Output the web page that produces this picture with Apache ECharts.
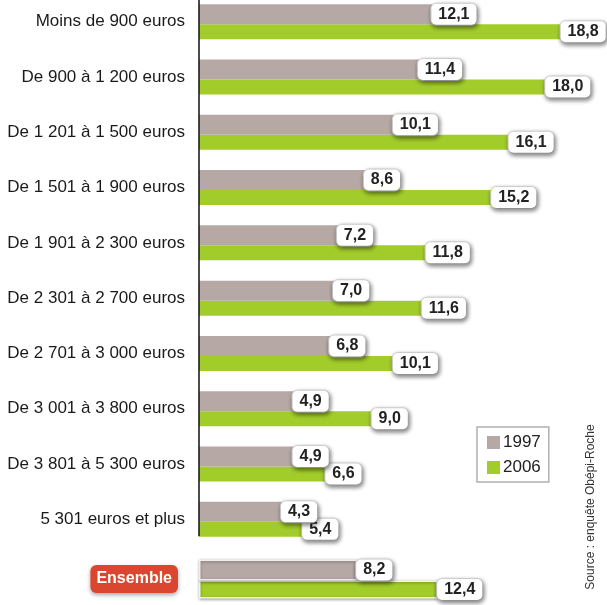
<!DOCTYPE html>
<html>
<head>
<meta charset="utf-8">
<script src="https://cdn.jsdelivr.net/npm/echarts@6/dist/echarts.min.js"></script>
<style>
  html, body { margin: 0; padding: 0; background: #ffffff; }
  #chart { width: 607px; height: 605px; }
</style>
</head>
<body>
<div id="chart"></div>
<script>
// Income brackets (monthly household income) and share of obese adults, in %
const categories = [
  'Moins de 900 euros',
  'De 900 à 1 200 euros',
  'De 1 201 à 1 500 euros',
  'De 1 501 à 1 900 euros',
  'De 1 901 à 2 300 euros',
  'De 2 301 à 2 700 euros',
  'De 2 701 à 3 000 euros',
  'De 3 001 à 3 800 euros',
  'De 3 801 à 5 300 euros',
  '5 301 euros et plus'
];
const values1997 = [12.1, 11.4, 10.1, 8.6, 7.2, 7.0, 6.8, 4.9, 4.9, 4.3];
const values2006 = [18.8, 18.0, 16.1, 15.2, 11.8, 11.6, 10.1, 9.0, 6.6, 5.4];

const totalCategory = ['Ensemble'];
const total1997 = [8.2];
const total2006 = [12.4];

const seriesNames = ['1997', '2006'];
const sourceText = 'Source : enquête Obépi-Roche';

const FONT = '"Liberation Sans", Arial, sans-serif';
const GREY = '#b6a8a4';
const GREEN = '#a2cc2a';

const fmt = v => v.toFixed(1).replace('.', ',');

const valueLabel = {
  show: true,
  position: 'right',
  distance: -1,
  formatter: p => fmt(p.value),
  fontFamily: FONT,
  fontSize: 16,
  fontWeight: 'bold',
  color: '#222222',
  backgroundColor: '#ffffff',
  borderColor: '#d8d8d8',
  borderWidth: 1,
  borderRadius: 5,
  padding: [3, 7, 2, 7],
  shadowColor: 'rgba(0,0,0,0.45)',
  shadowBlur: 4,
  shadowOffsetX: 1,
  shadowOffsetY: 2
};

const xScale = { min: 0, max: 21 };

const chart = echarts.init(document.getElementById('chart'), null, { renderer: 'canvas' });

const option = {
  animation: false,
  backgroundColor: '#ffffff',
  textStyle: { fontFamily: FONT },
  grid: [
    { left: 199, width: 405, top: -6, height: 553, outerBoundsMode: 'none', containLabel: false },
    { left: 199, width: 405, top: 555, height: 48, outerBoundsMode: 'none', containLabel: false }
  ],
  xAxis: [
    { gridIndex: 0, type: 'value', min: xScale.min, max: xScale.max, show: false },
    { gridIndex: 1, type: 'value', min: xScale.min, max: xScale.max, show: false }
  ],
  yAxis: [
    {
      gridIndex: 0, type: 'category', data: categories, inverse: true,
      axisLine: { show: false }, axisTick: { show: false }, splitLine: { show: false },
      axisLabel: { margin: 14, fontFamily: FONT, fontSize: 17, color: '#1a1a1a' }
    },
    {
      gridIndex: 1, type: 'category', data: totalCategory, inverse: true,
      axisLine: { show: false }, axisTick: { show: false }, splitLine: { show: false },
      axisLabel: {
        margin: 21, fontFamily: FONT, fontSize: 16, fontWeight: 'bold', color: '#ffffff',
        backgroundColor: '#db4630', borderRadius: 6, padding: [6, 6, 6, 6],
        shadowColor: 'rgba(0,0,0,0.35)', shadowBlur: 4, shadowOffsetY: 2
      }
    }
  ],
  legend: {
    data: seriesNames,
    orient: 'vertical',
    left: 477, top: 427,
    icon: 'rect',
    itemWidth: 13, itemHeight: 13, itemGap: 8,
    borderColor: '#b0b0b0', borderWidth: 1.5,
    padding: [7, 8, 6, 10],
    textStyle: { fontFamily: FONT, fontSize: 17, color: '#222222', padding: [0, 0, 0, -2] }
  },
  series: [
    {
      name: '1997', type: 'bar', xAxisIndex: 0, yAxisIndex: 0, data: values1997,
      barWidth: 20, barGap: 0, z: 3,
      itemStyle: { color: GREY },
      label: valueLabel
    },
    {
      name: '2006', type: 'bar', xAxisIndex: 0, yAxisIndex: 0, data: values2006,
      barWidth: 15, barGap: 0, z: 2,
      itemStyle: { color: GREEN },
      label: valueLabel
    },
    {
      name: '1997', type: 'bar', xAxisIndex: 1, yAxisIndex: 1, data: total1997,
      barWidth: 21, barGap: 0, z: 3,
      itemStyle: { color: GREY, borderColor: '#f2eeea', borderWidth: 1.5,
        shadowColor: 'rgba(0,0,0,0.35)', shadowBlur: 3, shadowOffsetY: 1 },
      label: valueLabel
    },
    {
      name: '2006', type: 'bar', xAxisIndex: 1, yAxisIndex: 1, data: total2006,
      barWidth: 18, barGap: 0, z: 2,
      itemStyle: { color: GREEN, borderColor: '#f2f6e4', borderWidth: 1.5,
        shadowColor: 'rgba(0,0,0,0.35)', shadowBlur: 3, shadowOffsetY: 1 },
      label: valueLabel
    }
  ]
};

chart.setOption(option);

// Vertical axis line spanning from the first to the last income bracket
const axisX = chart.convertToPixel({ xAxisIndex: 0 }, 0);
const firstY = chart.convertToPixel({ yAxisIndex: 0 }, categories[0]);
const lastY = chart.convertToPixel({ yAxisIndex: 0 }, categories[categories.length - 1]);

chart.setOption({
  graphic: [
    {
      type: 'line', z: 10,
      shape: { x1: axisX, y1: Math.max(0, firstY - 22), x2: axisX, y2: lastY + 17 },
      style: { stroke: '#111111', lineWidth: 1.5 }
    },
    {
      type: 'text', z: 10,
      x: 591, y: 507, rotation: Math.PI / 2,
      style: {
        text: sourceText, fontFamily: FONT, fontSize: 12, fill: '#333333',
        align: 'center', verticalAlign: 'middle'
      }
    }
  ]
});
</script>
</body>
</html>
